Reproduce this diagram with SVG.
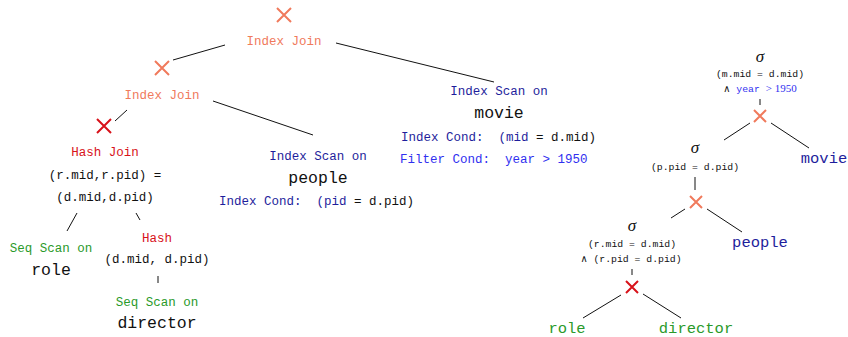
<svg xmlns="http://www.w3.org/2000/svg" width="848" height="337" viewBox="0 0 848 337">
<style>
text{white-space:pre}
.t{font-family:"Liberation Mono","DejaVu Sans Mono",monospace;font-size:12.5px;text-anchor:middle}
.big{font-family:"Liberation Mono","DejaVu Sans Mono",monospace;font-size:16.5px;text-anchor:middle;fill:#111}
.rbig{font-family:"Liberation Mono","DejaVu Sans Mono",monospace;font-size:15.5px;text-anchor:middle}
.s{font-family:"Liberation Mono","DejaVu Sans Mono",monospace;font-size:9.8px;text-anchor:middle;fill:#111}
.sig{font-family:"Liberation Serif","DejaVu Serif",serif;font-style:italic;font-size:17px;text-anchor:middle;fill:#111}
.ser{font-family:"Liberation Serif","DejaVu Serif",serif}
.sal{fill:#F07A5C}.red{fill:#D8121A}.grn{fill:#2A9A2A}.nav{fill:#1E1E9C}.blu{fill:#3030F0}.blk{fill:#111}
.xs{stroke-width:2;fill:none}
.xsal{stroke:#F07A5C}.xred{stroke:#D8121A}
.ln{stroke:#111;stroke-width:1;fill:none}
</style>
<defs>
<path id="x7" d="M-7,-7L7,7M7,-7L-7,7"/>
<path id="x6" d="M-6,-6L6,6M6,-6L-6,6"/>
</defs>
<g id="connectors">
<line class="ln" x1="225" y1="45" x2="173" y2="60"/>
<line class="ln" x1="336" y1="43" x2="494" y2="82"/>
<line class="ln" x1="213" y1="101" x2="313" y2="135"/>
<line class="ln" x1="127" y1="110" x2="115" y2="121"/>
<line class="ln" x1="77" y1="213" x2="67" y2="231"/>
<line class="ln" x1="136" y1="213" x2="140" y2="220"/>
<line class="ln" x1="158" y1="276" x2="158" y2="283"/>
<line class="ln" x1="760" y1="99" x2="760" y2="105"/>
<line class="ln" x1="750" y1="123" x2="724" y2="140"/>
<line class="ln" x1="771" y1="123" x2="809" y2="148"/>
<line class="ln" x1="695" y1="177" x2="695" y2="190"/>
<line class="ln" x1="685" y1="209" x2="671" y2="218"/>
<line class="ln" x1="707" y1="209" x2="742" y2="232"/>
<line class="ln" x1="632" y1="269" x2="632" y2="275"/>
<line class="ln" x1="621" y1="295" x2="583" y2="318"/>
<line class="ln" x1="643" y1="294" x2="681" y2="318"/>
</g>
<g id="indexjoin1">
<use href="#x7" class="xs xsal" transform="translate(284,15)"/>
<text class="t sal" x="284" y="45">Index Join</text>
</g>
<g id="indexjoin2">
<use href="#x7" class="xs xsal" transform="translate(162,68)"/>
<text class="t sal" x="162" y="99">Index Join</text>
</g>
<g id="hashjoin">
<use href="#x7" class="xs xred" transform="translate(104,126)"/>
<text class="t red" x="105" y="156">Hash Join</text>
<text class="t blk" x="105" y="179">(r.mid,r.pid) =</text>
<text class="t blk" x="105" y="201">(d.mid,d.pid)</text>
</g>
<g id="seqrole">
<text class="t grn" x="51" y="252">Seq Scan on</text>
<text class="big" x="51" y="275">role</text>
</g>
<g id="hash">
<text class="t red" x="157" y="242">Hash</text>
<text class="t blk" x="157" y="263">(d.mid, d.pid)</text>
</g>
<g id="seqdirector">
<text class="t grn" x="157" y="306">Seq Scan on</text>
<text class="big" x="157" y="328">director</text>
</g>
<g id="idxpeople">
<text class="t nav" x="318" y="160">Index Scan on</text>
<text class="big" x="318" y="183">people</text>
<text class="t nav" x="219" y="205" style="text-anchor:start">Index Cond:  (pid <tspan class="blk">= d.pid)</tspan></text>
</g>
<g id="idxmovie">
<text class="t nav" x="499" y="95">Index Scan on</text>
<text class="big" x="499" y="118">movie</text>
<text class="t nav" x="401" y="141" style="text-anchor:start">Index Cond:  (mid <tspan class="blk">= d.mid)</tspan></text>
<text class="t blu" x="400" y="163" style="text-anchor:start">Filter Cond:  year &gt; 1950</text>
</g>
<g id="sigma1">
<text class="sig" x="760" y="62">σ</text>
<text class="s" x="760" y="76.5">(m.mid = d.mid)</text>
<text class="s" x="760" y="91.5"><tspan class="ser">∧</tspan> <tspan class="blu">year</tspan> <tspan class="ser blu" font-size="11">&gt; 1950</tspan></text>
</g>
<g id="cross1">
<use href="#x6" class="xs xsal" transform="translate(760,116)"/>
</g>
<g id="movie">
<text class="rbig nav" x="824" y="163">movie</text>
</g>
<g id="sigma2">
<text class="sig" x="695" y="153">σ</text>
<text class="s" x="695" y="169.5">(p.pid = d.pid)</text>
</g>
<g id="cross2">
<use href="#x6" class="xs xsal" transform="translate(696,202)"/>
</g>
<g id="people">
<text class="rbig nav" x="760" y="247">people</text>
</g>
<g id="sigma3">
<text class="sig" x="632" y="231">σ</text>
<text class="s" x="632" y="246.5">(r.mid = d.mid)</text>
<text class="s" x="631" y="261.5"><tspan class="ser">∧</tspan> (r.pid = d.pid)</text>
</g>
<g id="cross3">
<use href="#x6" class="xs xred" transform="translate(632,287)"/>
</g>
<g id="role">
<text class="rbig grn" x="567" y="333">role</text>
</g>
<g id="director">
<text class="rbig grn" x="696" y="333">director</text>
</g>
</svg>
